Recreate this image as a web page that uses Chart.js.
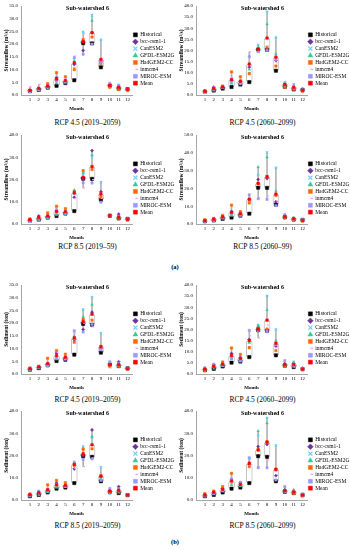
<!DOCTYPE html>
<html>
<head>
<meta charset="utf-8">
<script src="https://cdn.jsdelivr.net/npm/chart.js@4"></script>
<style>
    body { margin: 0; background: #fff; }
    #fig { position: relative; width: 350px; height: 550px; overflow: hidden; font-family: "Liberation Serif", serif; }
    #fig canvas { position: absolute; }
    .cap { position: absolute; width: 175px; text-align: center; font-size: 7.5px; line-height: 8px; color: #000; }
    .tag { position: absolute; left: 0; width: 350px; text-align: center; font-size: 6.5px; line-height: 7px; font-weight: bold; color: #000; }
</style>
</head>
<body>
<div id="fig"></div>
<script>
const months = ['1', '2', '3', '4', '5', '6', '7', '8', '9', '10', '11', '12'];
const seriesNames = ['Historical', 'bcc-csm1-1', 'CanESM2', 'GFDL-ESM2G', 'HadGEM2-CC', 'inmcm4', 'MIROC-ESM', 'Mean'];

// baseline (same in every scenario)
const flowHist = [1.5, 2.0, 2.9, 3.6, 4.7, 5.8, 20.4, 20.3, 10.9, 3.7, 2.5, 2.3];
const sedHist = [1.7, 2.3, 3.4, 5.1, 5.6, 7.6, 19.7, 19.4, 8.4, 3.7, 3.1, 2.2];

// rows: bcc-csm1-1, CanESM2, GFDL-ESM2G, HadGEM2-CC, inmcm4, MIROC-ESM, Mean
const flow45early = [
    [1.5, 2.5, 3.3, 6.8, 5.4, 12.0, 17.5, 24.5, 13.0, 3.5, 3.5, 2.4],
    [1.3, 2.0, 3.0, 5.0, 5.0, 10.5, 24.8, 31.3, 21.7, 4.2, 3.0, 2.0],
    [1.6, 2.3, 3.1, 4.6, 5.2, 13.2, 21.5, 29.2, 12.4, 3.9, 2.8, 2.2],
    [1.9, 2.6, 4.5, 8.8, 7.2, 10.0, 21.8, 22.8, 12.5, 3.0, 2.2, 1.8],
    [3.2, 4.2, 4.0, 7.4, 6.5, 15.3, 24.0, 24.0, 13.5, 3.8, 3.0, 2.6],
    [1.4, 2.2, 3.2, 5.5, 5.1, 14.6, 16.0, 20.0, 12.9, 4.6, 3.9, 2.3],
    [1.8, 2.6, 3.5, 6.3, 5.7, 12.7, 21.0, 24.5, 14.0, 3.8, 3.0, 2.2]
];
const flow45late = [
    [1.9, 3.5, 3.8, 6.6, 6.0, 12.5, 20.0, 20.5, 15.5, 5.0, 3.0, 2.6],
    [1.2, 2.2, 3.2, 5.2, 5.6, 9.8, 22.5, 37.4, 25.8, 5.5, 4.8, 2.2],
    [1.5, 2.6, 3.3, 5.4, 5.4, 11.5, 21.5, 31.8, 18.5, 5.0, 4.3, 2.2],
    [1.7, 2.8, 4.0, 10.4, 8.2, 9.6, 20.8, 21.5, 13.0, 3.5, 2.5, 1.6],
    [2.4, 3.8, 3.9, 7.8, 6.8, 19.4, 19.0, 22.0, 14.5, 6.1, 2.8, 2.0],
    [1.5, 2.5, 3.4, 6.2, 5.0, 17.2, 19.5, 20.0, 16.0, 4.5, 3.2, 2.2],
    [1.7, 2.9, 3.6, 6.9, 6.2, 13.9, 20.6, 25.6, 17.0, 4.8, 3.4, 2.1]
];
const flow85early = [
    [1.4, 3.6, 3.4, 5.8, 5.2, 12.0, 20.0, 33.0, 14.5, 3.8, 4.4, 2.3],
    [1.2, 2.0, 3.0, 4.5, 4.8, 14.0, 22.5, 30.0, 18.7, 3.6, 2.8, 2.0],
    [1.3, 2.4, 2.8, 4.0, 5.0, 15.3, 23.0, 31.0, 12.8, 3.8, 3.0, 2.1],
    [2.3, 2.8, 5.0, 8.0, 6.9, 14.5, 24.0, 24.5, 12.0, 3.9, 2.5, 1.7],
    [1.8, 2.6, 4.0, 5.2, 5.8, 11.5, 16.2, 20.0, 11.5, 3.7, 3.0, 1.9],
    [1.2, 2.2, 3.3, 6.3, 5.0, 13.6, 18.5, 18.4, 9.8, 3.8, 3.5, 2.3],
    [1.9, 2.9, 3.6, 5.6, 5.5, 14.0, 21.0, 25.8, 13.5, 3.8, 3.1, 2.1]
];
const flow85late = [
    [1.9, 2.4, 4.4, 7.0, 6.0, 13.8, 25.0, 25.5, 12.5, 4.5, 3.0, 2.5],
    [1.3, 2.0, 3.2, 5.0, 5.2, 14.5, 27.5, 40.2, 31.5, 3.8, 3.5, 1.8],
    [1.6, 2.5, 3.4, 4.8, 5.0, 13.0, 32.0, 37.5, 18.5, 4.0, 3.4, 2.0],
    [2.4, 3.2, 4.8, 10.6, 7.0, 11.8, 22.8, 26.5, 16.0, 3.5, 2.2, 1.6],
    [1.5, 2.8, 4.0, 6.3, 6.4, 13.5, 14.8, 15.8, 13.0, 4.5, 2.8, 2.0],
    [1.4, 2.2, 3.6, 5.4, 4.8, 16.4, 14.2, 13.8, 10.3, 5.3, 2.8, 2.4],
    [1.8, 2.7, 4.0, 6.5, 5.8, 13.9, 22.8, 26.6, 16.8, 4.2, 3.0, 2.0]
];
const sed45early = [
    [2.0, 2.8, 3.8, 8.2, 6.5, 13.5, 17.5, 24.3, 10.0, 3.5, 4.8, 2.2],
    [1.8, 2.4, 3.3, 6.5, 6.0, 14.0, 25.3, 30.2, 16.0, 4.5, 3.2, 2.0],
    [1.9, 2.6, 3.5, 5.8, 6.2, 14.8, 22.5, 27.2, 9.8, 3.8, 3.4, 2.1],
    [2.3, 3.0, 6.2, 9.2, 7.8, 12.5, 21.5, 21.2, 10.5, 3.0, 3.0, 1.9],
    [2.8, 3.5, 4.4, 8.5, 7.3, 16.0, 20.0, 18.5, 9.2, 2.4, 3.5, 2.0],
    [1.8, 2.5, 3.4, 6.0, 5.8, 17.0, 16.5, 19.5, 9.5, 4.8, 4.2, 2.2],
    [2.1, 2.8, 4.1, 7.2, 6.6, 14.2, 20.6, 23.5, 10.8, 3.7, 3.7, 2.1]
];
const sed45late = [
    [2.5, 4.2, 4.4, 9.2, 7.4, 15.5, 21.0, 19.5, 12.5, 4.5, 4.8, 2.6],
    [1.6, 2.6, 3.6, 6.8, 6.2, 12.0, 22.0, 35.0, 20.0, 3.5, 5.5, 2.2],
    [1.8, 3.0, 4.0, 7.0, 6.0, 14.0, 21.8, 28.8, 15.0, 4.0, 5.2, 2.3],
    [2.0, 3.3, 5.4, 11.7, 8.8, 11.8, 20.5, 20.2, 10.5, 3.8, 3.5, 1.9],
    [2.3, 3.6, 4.6, 8.0, 7.6, 17.2, 16.2, 22.0, 11.8, 4.2, 3.2, 2.0],
    [2.8, 4.4, 3.9, 7.4, 5.8, 19.6, 19.5, 19.0, 13.2, 6.0, 3.8, 2.4],
    [2.2, 3.5, 4.4, 8.3, 7.0, 15.0, 20.2, 24.2, 13.8, 4.3, 4.3, 2.2]
];
const sed85early = [
    [2.5, 3.2, 4.4, 7.6, 6.6, 14.0, 20.0, 31.5, 10.5, 4.0, 6.0, 2.4],
    [1.8, 2.5, 3.6, 6.0, 6.0, 17.2, 24.0, 28.0, 14.7, 3.0, 3.5, 2.1],
    [2.0, 3.0, 3.8, 5.6, 6.2, 16.8, 23.0, 28.5, 10.0, 3.5, 3.8, 2.2],
    [2.6, 3.5, 6.8, 8.8, 7.8, 15.5, 22.8, 23.0, 11.0, 3.8, 4.0, 2.0],
    [3.2, 3.2, 5.0, 6.8, 7.0, 14.2, 15.0, 19.0, 9.0, 4.2, 4.4, 2.1],
    [2.0, 4.0, 4.4, 7.0, 6.2, 16.5, 18.2, 18.5, 8.8, 5.2, 5.0, 2.4],
    [2.4, 3.3, 4.6, 6.8, 6.6, 16.0, 20.8, 24.8, 10.7, 4.0, 4.4, 2.2]
];
const sed85late = [
    [2.6, 3.5, 5.2, 9.0, 7.8, 16.0, 24.0, 25.0, 11.0, 4.5, 3.8, 2.4],
    [1.8, 2.8, 4.0, 7.0, 6.5, 18.5, 29.0, 36.8, 24.5, 3.8, 4.0, 2.0],
    [2.0, 3.2, 4.2, 6.8, 6.2, 17.0, 31.0, 34.5, 14.0, 4.0, 4.6, 2.2],
    [2.8, 4.0, 6.0, 12.0, 7.0, 15.0, 22.5, 26.2, 13.5, 4.2, 3.0, 1.8],
    [2.2, 3.4, 5.0, 8.2, 6.8, 15.8, 15.0, 18.0, 11.5, 3.6, 3.2, 1.5],
    [1.8, 2.8, 4.5, 9.5, 8.0, 19.0, 14.5, 14.5, 9.0, 6.0, 3.6, 2.8],
    [2.2, 3.5, 4.8, 8.5, 7.0, 16.5, 22.5, 26.0, 13.8, 4.2, 3.6, 2.2]
];

// marker look per series
const colors = ['#000000', '#7030A0', '#66CCFF', '#33CC99', '#FF6600', '#FF99FF', '#9999FF', '#FF0000'];
const markers = ['rect', 'rectRot', 'crossRot', 'triangle', 'rect', 'dash', 'rect', 'rect'];
const radii = [2.3, 1.6, 1.6, 1.5, 1.7, 1.8, 1.6, 1.8];

const FONT = '"Liberation Serif", "Times New Roman", serif';
const fig = document.getElementById('fig');

// "Sub-watershed 6" sits inside the plot, so draw it by hand
const panelTitle = {
    id: 'panelTitle',
    afterDraw(chart, args, opts) {
        const ctx = chart.ctx;
        ctx.save();
        ctx.font = 'bold 6px ' + FONT;
        ctx.fillStyle = '#000';
        ctx.textAlign = 'center';
        ctx.textBaseline = 'middle';
        ctx.fillText(opts.text, chart.width / 2, chart.chartArea.top + 2.5);
        ctx.restore();
    }
};

function makePanel(p) {
    const cv = document.createElement('canvas');
    cv.width = 175;
    cv.height = 112;
    cv.style.left = p.x + 'px';
    cv.style.top = p.y + 'px';
    fig.appendChild(cv);

    const rows = [p.hist].concat(p.runs);
    const mean = p.runs[6];

    // box = historical..mean, whisker = full spread of all series
    const boxData = months.map((m, i) => ({ x: i + 1, y: [p.hist[i], mean[i]] }));
    const whiskData = months.map((m, i) => {
        const v = rows.map(r => r[i]);
        return { x: i + 1, y: [Math.min(...v), Math.max(...v)] };
    });

    const datasets = [
        { type: 'bar', data: whiskData, grouped: false, barThickness: 1, backgroundColor: '#b3b3b3', borderWidth: 0, order: 30 },
        { type: 'bar', data: boxData, grouped: false, barThickness: 6, backgroundColor: '#ffffff', borderColor: '#bfbfbf', borderWidth: 1, borderSkipped: false, borderRadius: 2.5, order: 20 }
    ];
    seriesNames.forEach((name, k) => {
        datasets.push({
            type: 'line',
            label: name,
            showLine: false,
            data: rows[k].map((v, i) => ({ x: i + 1, y: v })),
            pointStyle: markers[k],
            pointRadius: radii[k],
            backgroundColor: colors[k],
            borderColor: colors[k],
            pointBorderWidth: (markers[k] === 'crossRot' || markers[k] === 'dash') ? 1.2 : 0.5,
            order: 8 - k
        });
    });

    new Chart(cv, {
        type: 'bar',
        data: { datasets },
        plugins: [panelTitle],
        options: {
            responsive: false,
            animation: false,
            layout: { padding: { top: 6, left: 0, right: 0, bottom: 0 } },
            scales: {
                x: {
                    type: 'linear', min: 0, max: 12.5, offset: false,
                    grid: { display: false, drawTicks: false },
                    border: { display: true, color: '#a6a6a6' },
                    afterBuildTicks: s => { s.ticks = months.map((m, i) => ({ value: i + 1 })); },
                    ticks: {
                        autoSkip: false, maxRotation: 0, padding: 2,
                        color: '#000', font: { family: FONT, size: 5 },
                        callback: v => months[v - 1] || ''
                    },
                    title: { display: true, text: 'Month', color: '#000', font: { family: FONT, size: 5, weight: 'bold' }, padding: { top: 1, bottom: 0 } },
                    afterFit: s => { s.height = 17; }
                },
                y: {
                    min: 0, max: p.yMax,
                    grid: { display: false, drawTicks: false },
                    border: { display: true, color: '#a6a6a6' },
                    ticks: {
                        stepSize: p.yStep, padding: 3,
                        color: '#000', font: { family: FONT, size: 5 },
                        callback: v => v.toFixed(1)
                    },
                    title: { display: true, text: p.yTitle, color: '#000', font: { family: FONT, size: 5.5, weight: 'bold' }, padding: { top: 3, bottom: 0 } },
                    afterFit: s => { s.width = 21; }
                }
            },
            plugins: {
                panelTitle: { text: 'Sub-watershed 6' },
                tooltip: { enabled: false },
                legend: {
                    position: 'right',
                    align: 'center',
                    maxWidth: 43,
                    labels: {
                        usePointStyle: true, boxWidth: 4, boxHeight: 4, padding: 1.4,
                        color: '#000', font: { family: FONT, size: 5.5 },
                        filter: it => it.datasetIndex >= 2,
                        sort: (a, b) => a.datasetIndex - b.datasetIndex
                    }
                }
            }
        }
    });

    const cap = document.createElement('div');
    cap.className = 'cap';
    cap.style.left = p.x + 'px';
    cap.style.top = (p.capY - 4) + 'px';
    cap.textContent = p.caption;
    fig.appendChild(cap);
}

const flowTitle = 'Streamflow (m³/s)';
const sedTitle = 'Sediment (ton)';

const panels = [
    { x: 0, y: 0, capY: 123, hist: flowHist, runs: flow45early, yMax: 35, yStep: 5, yTitle: flowTitle, caption: 'RCP 4.5 (2019–2059)' },
    { x: 175, y: 0, capY: 123, hist: flowHist, runs: flow45late, yMax: 40, yStep: 5, yTitle: flowTitle, caption: 'RCP 4.5 (2060–2099)' },
    { x: 0, y: 129, capY: 247, hist: flowHist, runs: flow85early, yMax: 40, yStep: 10, yTitle: flowTitle, caption: 'RCP 8.5 (2019–59)' },
    { x: 175, y: 129, capY: 247, hist: flowHist, runs: flow85late, yMax: 50, yStep: 10, yTitle: flowTitle, caption: 'RCP 8.5 (2060–99)' },
    { x: 0, y: 279, capY: 400, hist: sedHist, runs: sed45early, yMax: 35, yStep: 5, yTitle: sedTitle, caption: 'RCP 4.5 (2019–2059)' },
    { x: 175, y: 279, capY: 400, hist: sedHist, runs: sed45late, yMax: 40, yStep: 5, yTitle: sedTitle, caption: 'RCP 4.5 (2060–2099)' },
    { x: 0, y: 405, capY: 526, hist: sedHist, runs: sed85early, yMax: 40, yStep: 10, yTitle: sedTitle, caption: 'RCP 8.5 (2019–2059)' },
    { x: 175, y: 405, capY: 526, hist: sedHist, runs: sed85late, yMax: 40, yStep: 10, yTitle: sedTitle, caption: 'RCP 8.5 (2060–2099)' }
];
panels.forEach(makePanel);

// sub-figure tags
[['(a)', 266], ['(b)', 541]].forEach(([t, y]) => {
    const d = document.createElement('div');
    d.className = 'tag';
    d.style.top = (y - 3.5) + 'px';
    d.textContent = t;
    fig.appendChild(d);
});
</script>
</body>
</html>
